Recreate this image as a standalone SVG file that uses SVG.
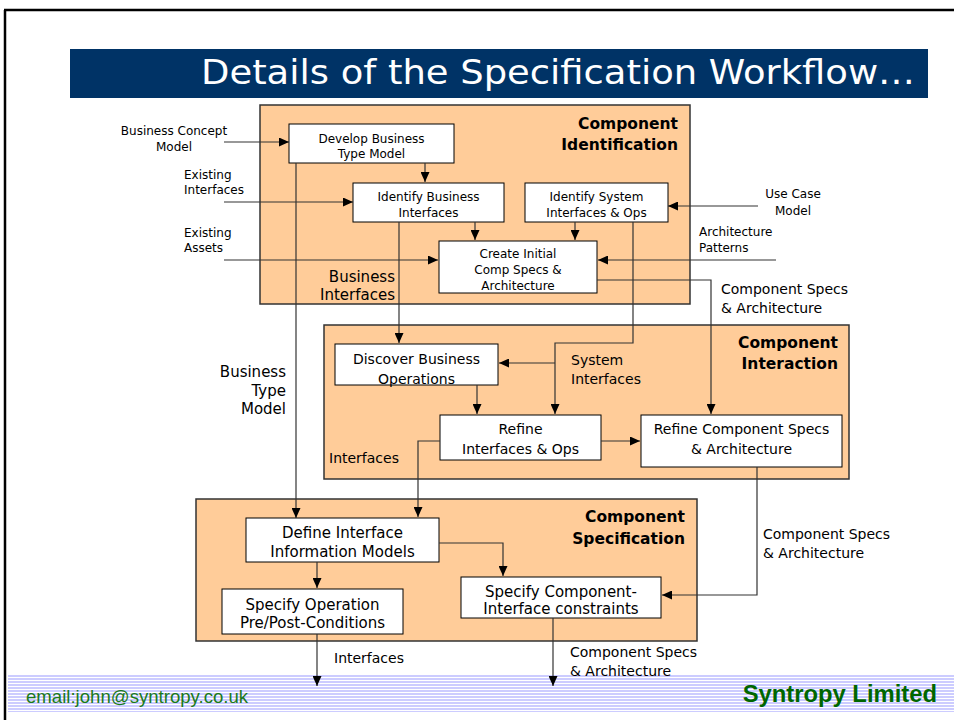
<svg xmlns="http://www.w3.org/2000/svg" width="954" height="720" viewBox="0 0 954 720">
<defs>
<marker id="ah" markerUnits="userSpaceOnUse" markerWidth="11" markerHeight="9" refX="10" refY="4.5" orient="auto">
<path d="M0,0 L10,4.5 L0,9 z" fill="#000"/>
</marker>
<pattern id="stripes" patternUnits="userSpaceOnUse" width="10" height="3" x="0" y="675">
<rect width="10" height="2" fill="#CCCCFF"/>
<rect y="2" width="10" height="1" fill="#fff"/>
</pattern>
<style>
.panel{fill:#FFCC99;stroke:#333;stroke-width:1.5}
.box{fill:#fff;stroke:#000;stroke-width:1}
.t{font-family:"DejaVu Sans",Verdana,sans-serif;fill:#000}
.s12{font-size:12px}
.s14{font-size:14px}
.s15{font-size:15px}
.ttl{font-family:"DejaVu Sans",Verdana,sans-serif;font-size:15.5px;font-weight:bold;fill:#000;text-anchor:end}
.c{text-anchor:middle}
.e{text-anchor:end}
.conn path{fill:none;stroke:#333;stroke-width:1.2;marker-end:url(#ah)}
</style>
</defs>
<rect width="954" height="720" fill="#fff"/>
<rect x="8" y="675" width="946" height="37" fill="url(#stripes)"/>
<path d="M4,10 H954 M5,10 V720" stroke="#000" stroke-width="2.5" fill="none"/>
<g id="title">
<rect x="70" y="49" width="858" height="49" fill="#003366"/>
<text x="201" y="84" font-family="'DejaVu Sans Condensed','DejaVu Sans',Verdana,sans-serif" font-stretch="condensed" font-size="33" fill="#fff" textLength="714" lengthAdjust="spacingAndGlyphs">Details of the Specification Workflow…</text>
</g>
<g id="panel-identification">
<rect class="panel" x="260" y="105" width="430" height="199"/>
<text class="ttl" x="678" y="129">Component</text>
<text class="ttl" x="678" y="150">Identification</text>
</g>
<g id="panel-interaction">
<rect class="panel" x="324" y="325" width="525" height="154"/>
<text class="ttl" x="838" y="348">Component</text>
<text class="ttl" x="838" y="369">Interaction</text>
</g>
<g id="panel-specification">
<rect class="panel" x="196" y="499" width="501" height="142"/>
<text class="ttl" x="685" y="522">Component</text>
<text class="ttl" x="685" y="544">Specification</text>
</g>
<g id="n-develop">
<rect class="box" x="289" y="124" width="165" height="39"/>
<text class="t s12 c" x="371.5" y="143">Develop Business</text>
<text class="t s12 c" x="371.5" y="158">Type Model</text>
</g>
<g id="n-identify-business">
<rect class="box" x="353" y="183" width="151" height="39"/>
<text class="t s12 c" x="428.5" y="201">Identify Business</text>
<text class="t s12 c" x="428.5" y="217">Interfaces</text>
</g>
<g id="n-identify-system">
<rect class="box" x="525" y="183" width="143" height="39"/>
<text class="t s12 c" x="596.5" y="201">Identify System</text>
<text class="t s12 c" x="596.5" y="217">Interfaces &amp; Ops</text>
</g>
<g id="n-create">
<rect class="box" x="439" y="241" width="158" height="52"/>
<text class="t s12 c" x="518" y="258">Create Initial</text>
<text class="t s12 c" x="518" y="274">Comp Specs &amp;</text>
<text class="t s12 c" x="518" y="290">Architecture</text>
</g>
<g id="n-discover">
<rect class="box" x="335" y="344" width="163" height="41"/>
<text class="t s14 c" x="416.5" y="364">Discover Business</text>
<text class="t s14 c" x="416.5" y="384">Operations</text>
</g>
<g id="n-refine-interfaces">
<rect class="box" x="440" y="415" width="161" height="45"/>
<text class="t s14 c" x="520.5" y="434">Refine</text>
<text class="t s14 c" x="520.5" y="454">Interfaces &amp; Ops</text>
</g>
<g id="n-refine-comp">
<rect class="box" x="641" y="415" width="201" height="52"/>
<text class="t s14 c" x="741.5" y="434">Refine Component Specs</text>
<text class="t s14 c" x="741.5" y="454">&amp; Architecture</text>
</g>
<g id="n-define">
<rect class="box" x="246" y="518" width="193" height="44"/>
<text class="t s15 c" x="342.5" y="538">Define Interface</text>
<text class="t s15 c" x="342.5" y="557">Information Models</text>
</g>
<g id="n-specify-op">
<rect class="box" x="222" y="589" width="181" height="45"/>
<text class="t s15 c" x="312.5" y="610">Specify Operation</text>
<text class="t s15 c" x="312.5" y="628">Pre/Post-Conditions</text>
</g>
<g id="n-specify-comp">
<rect class="box" x="461" y="577" width="200" height="41"/>
<text class="t s15 c" x="561" y="597">Specify Component-</text>
<text class="t s15 c" x="561" y="614">Interface constraints</text>
</g>
<g class="conn" id="connectors">
<path d="M224,142 H289"/>
<path d="M425,163 V182"/>
<path d="M224,202 H353"/>
<path d="M224,260 H438"/>
<path d="M475,222 V240"/>
<path d="M575,222 V240"/>
<path d="M758,206 H668"/>
<path d="M776,260 H598"/>
<path d="M597,280 H711 V414"/>
<path d="M296,163 V518"/>
<path d="M399,222 V343"/>
<path d="M633,222 V343 H555 V414"/>
<path d="M555,363 H499"/>
<path d="M477,385 V414"/>
<path d="M601,441 H640"/>
<path d="M440,441 H418 V517"/>
<path d="M757,467 V595 H662"/>
<path d="M317,562 V588"/>
<path d="M439,543 H503 V576"/>
<path d="M317,634 V686"/>
<path d="M553,618 V686"/>
</g>
<g id="labels">
<text class="t s12 c" x="174" y="135">Business Concept</text>
<text class="t s12 c" x="174" y="151">Model</text>
<text class="t s12" x="184" y="179">Existing</text>
<text class="t s12" x="184" y="194">Interfaces</text>
<text class="t s12" x="184" y="237">Existing</text>
<text class="t s12" x="184" y="252">Assets</text>
<text class="t s12 c" x="793" y="198">Use Case</text>
<text class="t s12 c" x="793" y="215">Model</text>
<text class="t s12" x="699" y="236">Architecture</text>
<text class="t s12" x="699" y="252">Patterns</text>
<text class="t s15 e" x="395" y="282">Business</text>
<text class="t s15 e" x="395" y="300">Interfaces</text>
<text class="t s14" x="721" y="294">Component Specs</text>
<text class="t s14" x="721" y="313">&amp; Architecture</text>
<text class="t s15 e" x="286" y="377">Business</text>
<text class="t s15 e" x="286" y="396">Type</text>
<text class="t s15 e" x="286" y="414">Model</text>
<text class="t s14" x="571" y="365">System</text>
<text class="t s14" x="571" y="384">Interfaces</text>
<text class="t s14" x="329" y="463">Interfaces</text>
<text class="t s14" x="763" y="539">Component Specs</text>
<text class="t s14" x="763" y="558">&amp; Architecture</text>
<text class="t s14" x="334" y="663">Interfaces</text>
<text class="t s14" x="570" y="657">Component Specs</text>
<text class="t s14" x="570" y="676">&amp; Architecture</text>
</g>
<g id="footer">
<text x="26" y="703" font-family="'Liberation Sans',Arial,sans-serif" font-size="18.6" fill="#1a7a1a">email:john@syntropy.co.uk</text>
<text x="937" y="702" font-family="'Liberation Sans',Arial,sans-serif" font-size="23.8" font-weight="bold" fill="#006600" text-anchor="end">Syntropy Limited</text>
</g>
</svg>
